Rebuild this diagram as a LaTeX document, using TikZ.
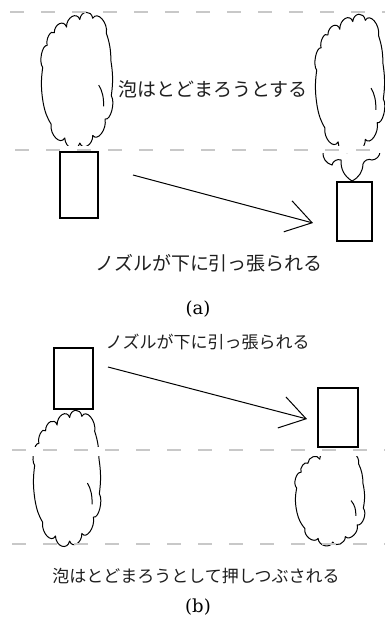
\documentclass[tikz,border=0pt]{standalone}
\usepackage{fontspec}
\newfontfamily\jp{Noto Sans CJK JP}
\newfontfamily\capserif{DejaVu Serif}
\usetikzlibrary{arrows.meta}
\definecolor{dashgray}{RGB}{200,200,200}
\definecolor{inkjp}{RGB}{30,30,30}
\tikzset{
  nozzle/.style={draw=black, line width=1.3pt, inner sep=0pt, minimum width=#1},
  guide/.style={draw=dashgray, line width=1.3pt, dash pattern=on 14pt off 17pt},
  band/.style={fill=white, draw=none},
  pull/.style={line width=1pt, -{Straight Barb[length=25pt, width=32pt, line width=1pt]}},
  lbl/.style={inner sep=0pt, text=inkjp},
  subcap/.style={inner sep=0pt, font=\capserif\fontsize{18}{18}\selectfont},
  puff/.style={bend left=75},
  flat/.style={bend left=15},
  % a lumpy foam outline in a unit box, scaled by the pic's xscale/yscale
  pics/foam/.style={code={
    \draw[line width=1pt, line join=round]
      (-0.65,-0.75) to[puff] (-0.30,-0.84) to[puff] (0.08,-0.96) to[puff] (0.45,-0.98)
      to[puff] (0.84,-0.74) to[flat] (0.97,-0.30) to[flat] (0.98,0.25)
      to[puff] (0.80,0.62) to[puff] (0.45,0.88) to[puff] (0.08,1.0)
      to[puff] (-0.35,0.92) to[puff] (-0.74,0.70) to[flat] (-0.97,0.35)
      to[flat] (-0.98,-0.20) to[puff] (-0.85,-0.55) to[puff] cycle;
    \draw[line width=1pt] (0.62,0.08) to[bend left=25] (0.76,0.42);
  }},
}
\begin{document}
\begin{tikzpicture}[x=1pt, y=-1pt]
\useasboundingbox (0,0) rectangle (385,619);

% ---------- (a) nozzle pulled down, foam stays ----------
\pic[xscale=35, yscale=63] (fa1) at (77,80) {foam};
\pic[xscale=34, yscale=64] (fa2) at (350,83) {foam};
% foam still hanging under the band, joined to the moved nozzle
\draw[line width=1pt] (323,152) to[bend right=40] (332,165) to[bend left=50] (341,160)
  to[bend right=30] (352,181);
\draw[line width=1pt] (380,152) to[bend left=40] (372,160) to[bend right=50] (363,164)
  to[bend left=30] (352,181);

% white bands carrying the dashed guide lines
\fill[band] (0,146) rectangle (385,153);
\draw[guide] (10,12) -- (385,12);
\draw[guide] (15,150) -- (385,150);

\node[nozzle=38pt, minimum height=66pt] (na1) at (79,185) {};
\node[nozzle=35pt, minimum height=59pt] (na2) at (354.5,211.5) {};

\coordinate (pa1) at (133,175);
\coordinate (pa2) at (313,223);
\draw[pull] (pa1) -- (pa2);

\node[lbl, font=\jp\fontsize{19}{19}\selectfont] (ta1) at (213,89) {泡はとどまろうとする};
\node[lbl, font=\jp\fontsize{19}{19}\selectfont] (ta2) at (209,263) {ノズルが下に引っ張られる};
\node[subcap] (capa) at (198,309) {(a)};

% ---------- (b) nozzle pulled down, foam squashed ----------
\pic[xscale=33, yscale=63] (fb1) at (67,478) {foam};
\pic[xscale=34, yscale=45] (fb2) at (330,497) {foam};

\fill[band] (0,447) rectangle (385,456);
\draw[guide] (12,450) -- (385,450);
\draw[guide] (12,544) -- (385,544);

\node[nozzle=39pt, minimum height=61pt] (nb1) at (73.5,378.5) {};
\node[nozzle=40pt, minimum height=59pt] (nb2) at (338,417.5) {};

\coordinate (pb1) at (108,367);
\coordinate (pb2) at (307,419);
\draw[pull] (pb1) -- (pb2);

\node[lbl, font=\jp\fontsize{17}{17}\selectfont] (tb1) at (207.5,342) {ノズルが下に引っ張られる};
\node[lbl, font=\jp\fontsize{17}{17}\selectfont] (tb2) at (196,576) {泡はとどまろうとして押しつぶされる};
\node[subcap] (capb) at (198,607) {(b)};
\end{tikzpicture}
\end{document}
